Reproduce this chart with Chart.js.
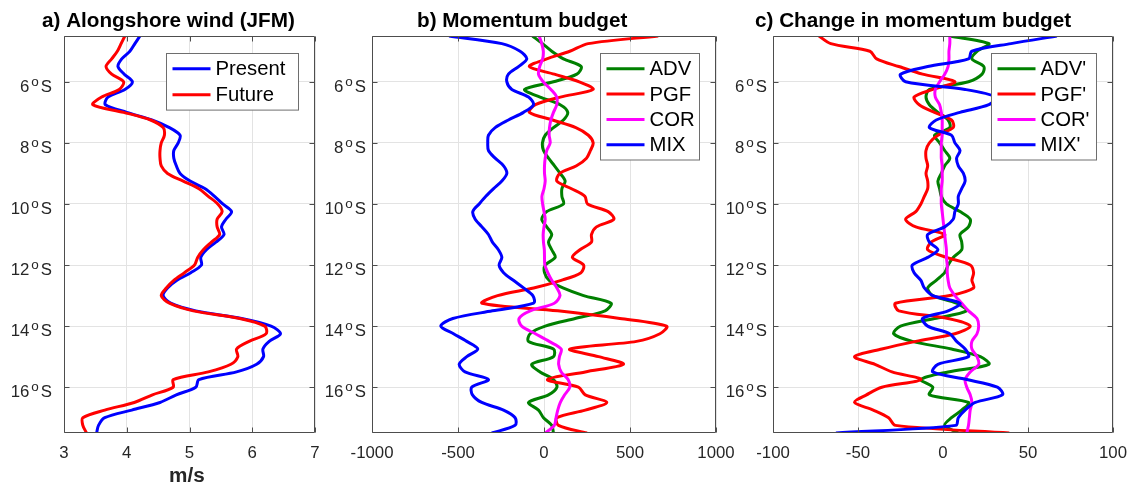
<!DOCTYPE html>
<html>
<head>
<meta charset="utf-8">
<script src="https://cdn.jsdelivr.net/npm/chart.js@4.4.1/dist/chart.umd.min.js"></script>
<style>
  body { margin: 0; background: #fff; }
  .wrap { position: relative; width: 1137px; height: 488px; overflow: hidden; }
  .wrap canvas { position: absolute; left: 0; top: 0; }
</style>
</head>
<body>
<div class="wrap">
  <canvas id="chartA" width="1137" height="488"></canvas>
  <canvas id="chartB" width="1137" height="488"></canvas>
  <canvas id="chartC" width="1137" height="488"></canvas>
</div>
<script>
// vĩ độ (°S), dùng chung cho 3 panel
const lat = [4.5, 4.75, 5, 5.25, 5.5, 5.75, 6, 6.25, 6.5, 6.75, 7, 7.25, 7.5, 7.75, 8, 8.25, 8.5, 8.75,
  9, 9.25, 9.5, 9.75, 10, 10.25, 10.5, 10.75, 11, 11.25, 11.5, 11.75, 12, 12.25, 12.5, 12.75, 13, 13.25,
  13.5, 13.75, 14, 14.25, 14.5, 14.75, 15, 15.25, 15.5, 15.75, 16, 16.25, 16.5, 16.75, 17, 17.25, 17.5];
const latTicks = [6, 8, 10, 12, 14, 16];

// a) gió dọc bờ (m/s)
const windTicks = [3, 4, 5, 6, 7];
const windPresent = [4.21, 4.13, 4.05, 3.92, 3.86, 3.96, 4.09, 3.97, 3.70, 3.66, 4.00, 4.40, 4.68, 4.85, 4.82, 4.75, 4.75, 4.79,
  4.85, 5.01, 5.25, 5.40, 5.53, 5.67, 5.58, 5.51, 5.55, 5.42, 5.27, 5.18, 5.19, 5.02, 4.80, 4.65, 4.58, 4.70,
  5.10, 5.83, 6.30, 6.45, 6.27, 6.17, 6.18, 6.07, 5.75, 5.15, 5.10, 4.79, 4.53, 4.08, 3.65, 3.55, 3.52];
const windFuture = [3.97, 3.91, 3.85, 3.76, 3.67, 3.76, 3.95, 3.88, 3.60, 3.46, 3.95, 4.38, 4.58, 4.60, 4.55, 4.53, 4.53, 4.55,
  4.65, 4.90, 5.15, 5.30, 5.45, 5.52, 5.44, 5.44, 5.48, 5.35, 5.22, 5.13, 5.08, 4.92, 4.75, 4.63, 4.55, 4.68,
  5.06, 5.80, 6.20, 6.22, 5.95, 5.75, 5.77, 5.66, 5.30, 4.74, 4.74, 4.41, 4.12, 3.65, 3.30, 3.30, 3.36];

// b) cân bằng động lượng
const budgetTicks = [-1000, -500, 0, 500, 1000];
const advB = [-67, -9, 45, 113, 216, 191, 55, -113, -23, 94, 138, 113, 55, 7, -9, -3, 26, 61,
  94, 123, 104, 104, 113, 16, -13, 16, 45, 26, 45, 65, 7, 3, 30, 110, 230, 390,
  355, 181, 7, -81, -90, 55, 55, -71, -23, 55, 75, 26, -90, -32, -3, 45, 55];
const pgfB = [664, 257, 150, 16, -85, 60, 205, 285, 95, -50, -85, 50, 185, 258, 286, 270, 247, 189,
  92, 75, 160, 238, 253, 373, 406, 305, 276, 276, 209, 165, 230, 215, 100, -60, -270, -360,
  80, 441, 713, 674, 538, 150, 317, 462, 240, 20, 200, 240, 365, 240, 75, 84, 250];
const corB = [-28, -13, -4, -8, -25, -32, -5, 40, 74, 74, 55, 40, 32, 30, 36, 16, 7, 3,
  3, 7, 0, -12, -8, 0, 7, 0, -5, -3, 2, 3, 5, 22, 45, 75, 93, 60,
  -80, -145, -130, -50, 30, 100, 90, 85, 100, 140, 150, 120, 95, 80, 70, 60, 7];
const mixB = [-552, -245, -139, -100, -148, -207, -216, -187, -90, -61, -119, -207, -284, -323, -327, -323, -284, -235,
  -216, -245, -293, -338, -377, -414, -400, -361, -323, -300, -265, -245, -261, -235, -178, -119, -65, -60,
  -300, -530, -600, -526, -449, -385, -449, -493, -459, -323, -420, -416, -362, -235, -168, -168, -304];

// c) thay đổi cân bằng động lượng
const changeTicks = [-100, -50, 0, 50, 100];
const advC = [4, 27, 20, 17, 24, 23, 15, -8, -10, -8, -3, 3, 4, -5, -2, 1, 4, 1,
  -1, -3, -2, -1, 2, 10, 16, 15, 10, 11, 11, 6, 3, 1, -4, -9, -6, 8,
  14, -5, -25, -29, -18, 5, 22, 27, 3, -13, -6, -8, 15, 11, 5, 1, 9];
const pgfC = [-73, -66, -43, -39, -26, -12, 7, -6, -17, -14, -5, 5, 6, -3, -8, -10, -10, -9,
  -10, -9, -9, -11, -13, -16, -22, -16, 1, -7, -9, 2, 16, 18, 17, 18, 4, -28,
  -26, 3, 16, 7, -16, -36, -52, -40, -30, -13, -36, -45, -52, -41, -32, -28, 39];
const corC = [4, 4, 3.5, 3.5, 3, 1, -2, -4.5, -4.5, -2, -1, -0.5, -0.5, -0.5, -1, -1, -1, -0.5,
  -0.5, -0.5, -1, -1, -1, -0.5, 0, 0.5, 1, 1.5, 2, 2, 2.5, 2.5, 3, 4, 7, 11,
  15, 20, 21, 20, 17, 17, 20, 21, 16, 13, 14, 16, 17, 16, 15.5, 15, 14];
const mixC = [67, 40, 17, 15, -9, -25, -22, 13, 31, 27, 10, -4, -8, 5, 7, 10, 8, 9,
  12, 13, 11, 9, 9, 7, 6, 1, -9, -8, -3, -9, -18, -17, -13, -11, -6, 10,
  3, -12, -9, 4, 8, 13, 15, -3, -6, 14, 32, 35, 19, 13, 9, 7.5, -63];

const FONT = "'Liberation Sans', Arial, Helvetica, sans-serif";
const BLUE = "#0000ff", RED = "#ff0000", GREEN = "#008000", MAGENTA = "#ff00ff";
const TICK_COLOR = "#262626";

Chart.defaults.font.family = FONT;
Chart.defaults.color = TICK_COLOR;

// khung trục, vạch chia hướng vào trong, nhãn vĩ độ, chú thích, tiêu đề
const framePlugin = {
  id: "frame",
  afterDatasetsDraw(chart, args, opts) {
    const { ctx, chartArea: a, scales } = chart;
    const L = Math.round(a.left) + 0.5, R = Math.round(a.right) - 0.5;
    const T = Math.round(a.top) + 0.5, B = Math.round(a.bottom) - 0.5;
    ctx.save();
    ctx.strokeStyle = "#4d4d4d";
    ctx.lineWidth = 1;
    ctx.beginPath();
    scales.x.ticks.forEach((t) => {
      const x = Math.round(scales.x.getPixelForValue(t.value)) + 0.5;
      ctx.moveTo(x, B); ctx.lineTo(x, B - 5);
      ctx.moveTo(x, T); ctx.lineTo(x, T + 5);
    });
    scales.y.ticks.forEach((t) => {
      const y = Math.round(scales.y.getPixelForValue(t.value)) + 0.5;
      ctx.moveTo(L, y); ctx.lineTo(L + 5, y);
      ctx.moveTo(R, y); ctx.lineTo(R - 5, y);
    });
    ctx.rect(L, T, R - L, B - T);
    ctx.stroke();

    // nhãn trục y kiểu "6ᵒS" (chữ o nhỏ viết lên trên)
    ctx.fillStyle = TICK_COLOR;
    ctx.textBaseline = "alphabetic";
    ctx.textAlign = "left";
    const big = `16.8px ${FONT}`, small = `13.5px ${FONT}`;
    scales.y.ticks.forEach((t) => {
      const y = scales.y.getPixelForValue(t.value);
      const num = String(-t.value);
      ctx.font = big;
      const wNum = ctx.measureText(num).width, wS = ctx.measureText("S").width;
      ctx.font = small;
      const wO = ctx.measureText("o").width;
      let x = a.left - opts.yPad - (wNum + 2 + wO + 2 + wS);
      ctx.font = big;
      ctx.fillText(num, x, y + 10);
      x += wNum + 2;
      ctx.font = small;
      ctx.fillText("o", x, y + 4.3);
      x += wO + 2;
      ctx.font = big;
      ctx.fillText("S", x, y + 10);
    });

    // chú thích góc trên bên phải
    const ds = chart.data.datasets;
    const lg = opts.legend;
    const boxR = Math.round(a.right - 17) + 0.5;
    const boxT = Math.round(a.top + 17) + 0.5;
    const boxL = boxR - lg.width;
    const boxH = 30.6 + (ds.length - 1) * lg.rowH;
    ctx.fillStyle = "#fff";
    ctx.fillRect(boxL, boxT, lg.width, boxH);
    ctx.strokeStyle = "#6e6e6e";
    ctx.lineWidth = 1;
    ctx.strokeRect(boxL, boxT, lg.width, boxH);
    ctx.font = `20.3px ${FONT}`;
    ctx.textBaseline = "middle";
    ds.forEach((d, i) => {
      const y = boxT + 15.3 + i * lg.rowH;
      ctx.strokeStyle = d.borderColor;
      ctx.lineWidth = 3;
      ctx.beginPath();
      ctx.moveTo(boxL + 6, y);
      ctx.lineTo(boxL + 44, y);
      ctx.stroke();
      ctx.fillStyle = "#000";
      ctx.fillText(d.label, boxL + 49, y + 1);
    });
    ctx.restore();
  },
  afterDraw(chart, args, opts) {
    const { ctx } = chart;
    ctx.save();
    ctx.textAlign = "left";
    ctx.textBaseline = "alphabetic";
    ctx.fillStyle = "#000";
    ctx.font = `bold 20.7px ${FONT}`;
    ctx.fillText(opts.title, opts.titleX, 27);
    if (opts.xLabel) {
      ctx.fillStyle = TICK_COLOR;
      ctx.fillText(opts.xLabel, opts.xLabelX, 482);
    }
    ctx.restore();
  },
};

function makeChart(id, cfg) {
  return new Chart(document.getElementById(id), {
    type: "scatter",
    data: {
      datasets: cfg.series.map((s, i) => ({
        label: s.label,
        data: lat.map((l, k) => ({ x: s.values[k], y: -l })),
        borderColor: s.color,
        backgroundColor: s.color,
        borderWidth: 3,
        showLine: true,
        tension: 0.3,
        pointRadius: 0,
        order: cfg.series.length - 1 - i, // series cuối vẽ trên cùng
      })),
    },
    options: {
      responsive: false,
      animation: false,
      events: [],
      layout: { padding: { left: cfg.padLeft, right: 1137 - cfg.right, top: 36, bottom: 0 } },
      plugins: {
        legend: { display: false },
        tooltip: { enabled: false },
        frame: {
          title: cfg.title, titleX: cfg.titleX, xLabel: cfg.xLabel, xLabelX: cfg.xLabelX,
          yPad: cfg.yPad, legend: cfg.legend,
        },
      },
      scales: {
        x: {
          type: "linear",
          min: cfg.xTicks[0],
          max: cfg.xTicks[cfg.xTicks.length - 1],
          afterBuildTicks: (s) => { s.ticks = cfg.xTicks.map((v) => ({ value: v })); },
          afterFit: (s) => { s.height = 55; },
          grid: { color: "#e3e3e3", drawTicks: false },
          border: { display: false },
          ticks: { padding: 10, font: { size: 16.8 }, color: TICK_COLOR, maxRotation: 0, callback: (v) => String(v) },
        },
        y: {
          type: "linear",
          min: -17.5,
          max: -4.5,
          afterBuildTicks: (s) => { s.ticks = latTicks.map((v) => ({ value: -v })); },
          afterFit: (s) => { s.width = cfg.yWidth; },
          grid: { color: "#e3e3e3", drawTicks: false },
          border: { display: false },
          ticks: { display: false },
        },
      },
    },
    plugins: [framePlugin],
  });
}

makeChart("chartA", {
  title: "a) Alongshore wind (JFM)", titleX: 42, xLabel: "m/s", xLabelX: 169,
  padLeft: 0, yWidth: 64, yPad: 12, right: 315, xTicks: windTicks,
  legend: { width: 132, rowH: 26 },
  series: [
    { label: "Present", values: windPresent, color: BLUE },
    { label: "Future", values: windFuture, color: RED },
  ],
});

makeChart("chartB", {
  title: "b) Momentum budget", titleX: 417,
  padLeft: 330, yWidth: 42, yPad: 6, right: 716, xTicks: budgetTicks,
  legend: { width: 99, rowH: 25.3 },
  series: [
    { label: "ADV", values: advB, color: GREEN },
    { label: "PGF", values: pgfB, color: RED },
    { label: "COR", values: corB, color: MAGENTA },
    { label: "MIX", values: mixB, color: BLUE },
  ],
});

makeChart("chartC", {
  title: "c) Change in momentum budget", titleX: 755,
  padLeft: 720, yWidth: 53, yPad: 6, right: 1116, xTicks: changeTicks,
  legend: { width: 105, rowH: 25.3 },
  series: [
    { label: "ADV'", values: advC, color: GREEN },
    { label: "PGF'", values: pgfC, color: RED },
    { label: "COR'", values: corC, color: MAGENTA },
    { label: "MIX'", values: mixC, color: BLUE },
  ],
});
</script>
</body>
</html>
